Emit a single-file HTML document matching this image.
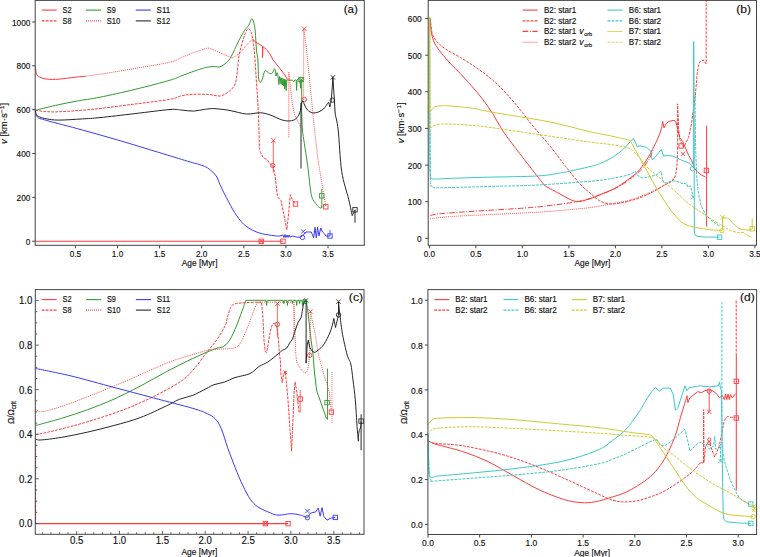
<!DOCTYPE html>
<html><head><meta charset="utf-8"><style>
html,body{margin:0;padding:0;background:#fff;}
svg{display:block;font-family:"Liberation Sans", sans-serif;}
text{stroke:#111;stroke-width:0.16px;}
</style></head><body>
<svg width="760" height="557" viewBox="0 0 760 557">
<rect width="760" height="557" fill="#fff"/>
<path d="M35.40,66.50C35.40,66.50 35.72,71.28 36.20,72.90C36.68,74.52 36.87,75.22 38.30,76.20C39.73,77.18 41.93,78.27 44.80,78.80C47.67,79.33 51.92,79.48 55.50,79.40C59.08,79.32 62.70,78.70 66.30,78.30C69.90,77.90 73.87,77.35 77.10,77.00C80.33,76.65 84.27,76.33 85.70,76.20" fill="none" stroke="#ff3a3a" stroke-width="1.0" stroke-linejoin="round"/>
<polyline points="35.4,241.3 282.9,241.3" fill="none" stroke="#ff3a3a" stroke-width="1.1" stroke-linejoin="round"/>
<path d="M35.40,110.30C35.40,110.30 41.45,111.23 44.80,111.50C48.15,111.77 50.12,112.05 55.50,111.90C60.88,111.75 69.68,111.17 77.10,110.60C84.52,110.03 90.35,109.60 100.00,108.50C109.65,107.40 123.33,105.53 135.00,104.00C146.67,102.47 162.37,100.63 170.00,99.30C177.63,97.97 177.22,96.82 180.80,96.00C184.38,95.18 187.02,94.67 191.50,94.40C195.98,94.13 203.03,94.13 207.70,94.40C212.37,94.67 216.27,96.27 219.50,96.00C222.73,95.73 224.58,94.60 227.10,92.80C229.62,91.00 232.90,88.62 234.60,85.20C236.30,81.78 236.58,77.13 237.30,72.30C238.02,67.47 238.07,61.20 238.90,56.20C239.73,51.20 241.20,46.23 242.30,42.30C243.40,38.37 244.50,34.88 245.50,32.60C246.50,30.32 247.35,28.60 248.30,28.60C249.25,28.60 250.37,30.32 251.20,32.60C252.03,34.88 252.68,37.98 253.30,42.30C253.92,46.62 254.37,51.77 254.90,58.50C255.43,65.23 256.03,75.78 256.50,82.70C256.97,89.62 257.32,92.95 257.70,100.00C258.08,107.05 258.50,116.67 258.80,125.00C259.10,133.33 259.50,150.00 259.50,150.00C259.50,150.00 261.75,155.38 263.00,157.00C264.25,158.62 265.75,158.48 267.00,159.70C268.25,160.92 269.53,163.33 270.50,164.30C271.47,165.27 272.80,165.50 272.80,165.50" fill="none" stroke="#ff3a3a" stroke-width="1" stroke-dasharray="2.8,1.2" stroke-linejoin="round"/>
<polyline points="272.8,165.5 275.0,175.0 277.5,197.0 281.0,200.5 284.5,218.0 286.8,229.7 288.5,215.0 290.3,194.7 292.7,200.5 295.5,204.0" fill="none" stroke="#ff3a3a" stroke-width="1" stroke-dasharray="2.8,1.2" stroke-linejoin="round"/>
<polyline points="273.3,140.5 273.3,172.5" fill="none" stroke="#ff3a3a" stroke-width="0.8" stroke-linejoin="round"/>
<path d="M271.1,138.3L275.5,142.7M271.1,142.7L275.5,138.3" stroke="#ff3a3a" stroke-width="0.9" fill="none"/>
<circle cx="272.8" cy="165.5" r="2.2" stroke="#ff3a3a" stroke-width="0.9" fill="none"/>
<rect x="293.3" y="201.8" width="4.4" height="4.4" stroke="#ff3a3a" stroke-width="0.9" fill="none"/>
<path d="M35.40,110.30C35.40,110.30 48.55,106.95 55.50,105.40C62.45,103.85 69.68,102.37 77.10,101.00C84.52,99.63 90.35,99.13 100.00,97.20C109.65,95.27 123.33,92.23 135.00,89.40C146.67,86.57 162.37,82.42 170.00,80.20C177.63,77.98 177.22,77.45 180.80,76.10C184.38,74.75 187.92,73.37 191.50,72.10C195.08,70.83 199.42,69.37 202.30,68.50C205.18,67.63 206.65,67.20 208.80,66.90C210.95,66.60 213.42,66.70 215.20,66.70C216.98,66.70 218.07,67.22 219.50,66.90C220.93,66.58 222.35,65.78 223.80,64.80C225.25,63.82 226.93,62.43 228.20,61.00C229.47,59.57 230.33,58.08 231.40,56.20C232.47,54.32 233.35,52.32 234.60,49.70C235.85,47.08 237.22,43.75 238.90,40.50C240.58,37.25 243.05,32.73 244.70,30.20C246.35,27.67 247.67,27.18 248.80,25.30C249.93,23.42 250.70,19.43 251.50,18.90C252.30,18.37 252.98,20.08 253.60,22.10C254.22,24.12 254.72,26.28 255.20,31.00C255.68,35.72 256.05,45.57 256.50,50.40C256.95,55.23 257.55,55.38 257.90,60.00C258.25,64.62 258.23,74.37 258.60,78.10C258.97,81.83 259.50,82.17 260.10,82.40C260.70,82.63 261.48,81.25 262.20,79.50C262.92,77.75 263.78,73.33 264.40,71.90C265.02,70.47 265.05,70.65 265.90,70.90C266.75,71.15 268.42,73.05 269.50,73.40C270.58,73.75 271.62,73.78 272.40,73.00C273.18,72.22 274.20,68.70 274.20,68.70" fill="none" stroke="#319a31" stroke-width="1.0" stroke-linejoin="round"/>
<polyline points="274.2,68.7 275.3,70.1 276.0,75.9 277.1,72.7 277.8,74.5 278.9,84.6 279.6,76.6 280.3,78.1 281.0,84.0 281.6,78.0 282.3,85.0 283.0,78.5 283.7,86.0 284.3,79.0 284.7,88.9 285.3,79.5 286.1,90.4 286.8,79.8 287.6,79.9 292.6,80.3 293.7,81.3 295.5,79.9 296.2,80.0 296.6,90.4 297.0,80.0 298.4,78.5 300.0,79.5 300.5,88.2 301.0,79.5 301.7,79.5 301.7,110.0" fill="none" stroke="#319a31" stroke-width="1.0" stroke-linejoin="round"/>
<path d="M301.60,110.00C301.60,110.00 302.05,124.45 302.50,130.00C302.95,135.55 303.42,137.18 304.30,143.30C305.18,149.42 306.63,158.13 307.80,166.70C308.97,175.27 309.93,188.48 311.30,194.70C312.67,200.92 314.43,201.75 316.00,204.00C317.57,206.25 319.73,207.87 320.70,208.20C321.67,208.53 321.80,206.00 321.80,206.00" fill="none" stroke="#319a31" stroke-width="1.0" stroke-linejoin="round"/>
<polyline points="321.8,188.8 321.8,208.0" fill="none" stroke="#319a31" stroke-width="0.9" stroke-linejoin="round"/>
<rect x="298.8" y="77.3" width="4.4" height="4.4" stroke="#319a31" stroke-width="0.9" fill="none"/>
<path d="M299.3,77.3L303.7,81.7M299.3,81.7L303.7,77.3" stroke="#319a31" stroke-width="0.9" fill="none"/>
<rect x="319.6" y="193.6" width="4.4" height="4.4" stroke="#319a31" stroke-width="0.9" fill="none"/>
<path d="M85.70,76.20C85.70,76.20 95.78,74.88 104.00,73.60C112.22,72.32 124.00,70.40 135.00,68.50C146.00,66.60 162.37,63.98 170.00,62.20C177.63,60.42 177.22,59.25 180.80,57.80C184.38,56.35 187.92,54.85 191.50,53.50C195.08,52.15 199.60,50.60 202.30,49.70C205.00,48.80 205.90,48.10 207.70,48.10C209.50,48.10 210.77,48.80 213.10,49.70C215.43,50.60 218.83,52.25 221.70,53.50C224.57,54.75 228.50,56.48 230.30,57.20C232.10,57.92 231.42,58.15 232.50,57.80C233.58,57.45 235.55,55.92 236.80,55.10C238.05,54.28 238.55,54.35 240.00,52.90C241.45,51.45 243.45,48.70 245.50,46.40C247.55,44.10 252.30,39.10 252.30,39.10" fill="none" stroke="#ff3a3a" stroke-width="1" stroke-dasharray="0.9,1.1" stroke-linejoin="round"/>
<polyline points="288.8,72.4 288.8,137.5" fill="none" stroke="#ff3a3a" stroke-width="1" stroke-dasharray="0.9,1.1" stroke-linejoin="round"/>
<path d="M288.80,72.40C288.80,72.40 290.82,92.02 291.80,99.10C292.78,106.18 293.38,110.62 294.70,114.90C296.02,119.18 298.65,122.62 299.70,124.80C300.75,126.98 300.78,127.47 301.00,128.00" fill="none" stroke="#ff3a3a" stroke-width="1" stroke-dasharray="0.9,1.1" stroke-linejoin="round"/>
<polyline points="303.6,99.5 303.8,28.9 306.6,49.7 309.5,79.3 312.5,109.0 314.5,130.0 318.0,160.0 323.0,190.0 325.8,206.8" fill="none" stroke="#ff3a3a" stroke-width="1" stroke-dasharray="0.9,1.1" stroke-linejoin="round"/>
<path d="M302.2,26.6L306.6,31.0M302.2,31.0L306.6,26.6" stroke="#ff3a3a" stroke-width="0.9" fill="none"/>
<circle cx="304.4" cy="99.5" r="2.2" stroke="#ff3a3a" stroke-width="0.9" fill="none"/>
<rect x="323.6" y="204.6" width="4.4" height="4.4" stroke="#ff3a3a" stroke-width="0.9" fill="none"/>
<polyline points="252.3,39.1 256.1,42.3 260.1,44.7 262.5,46.4 262.5,57.7 262.9,46.6 266.5,49.6 270.0,54.0 273.1,60.0 278.9,67.2 283.9,73.7 287.6,79.5" fill="none" stroke="#ff3a3a" stroke-width="1.0" stroke-linejoin="round"/>
<path d="M35.40,110.30C35.40,110.30 35.50,115.30 37.40,117.00C39.30,118.70 39.30,118.33 46.80,120.50C54.30,122.67 70.20,126.63 82.40,130.00C94.60,133.37 107.28,136.97 120.00,140.70C132.72,144.43 147.45,148.98 158.70,152.40C169.95,155.82 180.32,159.05 187.50,161.20C194.68,163.35 198.22,164.02 201.80,165.30C205.38,166.58 206.60,167.12 209.00,168.90C211.40,170.68 214.32,173.27 216.20,176.00C218.08,178.73 218.25,181.02 220.30,185.30C222.35,189.58 225.77,196.63 228.50,201.70C231.23,206.77 233.78,211.62 236.70,215.70C239.62,219.78 242.12,223.28 246.00,226.20C249.88,229.12 254.55,231.53 260.00,233.20C265.45,234.87 278.70,236.20 278.70,236.20" fill="none" stroke="#3a3aff" stroke-width="1.0" stroke-linejoin="round"/>
<polyline points="278.7,236.2 283.0,235.0 284.0,237.5 285.0,234.5 286.0,237.5 287.0,235.0 288.0,237.5 289.0,235.0 290.0,237.0 292.7,236.0 296.0,237.0 300.0,237.2 302.5,236.0 306.0,232.0 311.3,232.0 313.7,237.8 315.0,227.3 316.3,237.8 317.5,227.3 319.0,236.0 320.7,228.0 322.5,232.0 324.2,233.5 326.0,236.0 327.7,236.0 330.0,236.0" fill="none" stroke="#3a3aff" stroke-width="1.0" stroke-linejoin="round"/>
<circle cx="302.5" cy="237.4" r="2.2" stroke="#3a3aff" stroke-width="0.9" fill="none"/>
<path d="M301.0,229.3L305.4,233.7M301.0,233.7L305.4,229.3" stroke="#3a3aff" stroke-width="0.9" fill="none"/>
<rect x="327.8" y="233.8" width="4.4" height="4.4" stroke="#3a3aff" stroke-width="0.9" fill="none"/>
<polyline points="330.0,230.0 330.0,236.0" fill="none" stroke="#3a3aff" stroke-width="0.9" stroke-linejoin="round"/>
<path d="M35.40,110.30C35.40,110.30 35.48,113.48 36.20,114.60C36.92,115.72 37.93,116.28 39.70,117.00C41.47,117.72 43.63,118.38 46.80,118.90C49.97,119.42 52.77,120.10 58.70,120.10C64.63,120.10 75.52,119.32 82.40,118.90C89.28,118.48 91.23,118.48 100.00,117.60C108.77,116.72 123.33,114.95 135.00,113.60C146.67,112.25 162.18,110.08 170.00,109.50C177.82,108.92 177.95,109.83 181.90,110.10C185.85,110.37 189.77,111.25 193.70,111.10C197.63,110.95 201.95,109.60 205.50,109.20C209.05,108.80 210.92,108.48 215.00,108.70C219.08,108.92 224.77,109.62 230.00,110.50C235.23,111.38 241.37,113.62 246.40,114.00C251.43,114.38 256.27,112.65 260.20,112.80C264.13,112.95 266.38,113.72 270.00,114.90C273.62,116.08 278.60,118.90 281.90,119.90C285.20,120.90 287.50,121.07 289.80,120.90C292.10,120.73 294.05,120.23 295.70,118.90C297.35,117.57 298.72,115.55 299.70,112.90C300.68,110.25 301.02,104.97 301.60,103.00C302.18,101.03 303.20,101.10 303.20,101.10C303.20,101.10 303.87,103.52 304.60,105.00C305.33,106.48 306.28,108.68 307.60,110.00C308.92,111.32 310.70,112.57 312.50,112.90C314.30,113.23 316.58,112.65 318.40,112.00C320.22,111.35 321.92,110.33 323.40,109.00C324.88,107.67 326.42,105.15 327.30,104.00C328.18,102.85 328.70,102.10 328.70,102.10C328.70,102.10 329.90,107.00 329.90,107.00C329.90,107.00 331.30,100.10 331.30,100.10" fill="none" stroke="#262626" stroke-width="1.0" stroke-linejoin="round"/>
<polyline points="331.3,100.1 332.9,77.3 335.3,114.9" fill="none" stroke="#262626" stroke-width="1.0" stroke-linejoin="round"/>
<path d="M335.30,114.90C335.30,114.90 337.13,120.60 338.20,130.00C339.27,139.40 339.95,159.75 341.70,171.30C343.45,182.85 346.95,191.90 348.70,199.30C350.45,206.70 352.20,215.70 352.20,215.70C352.20,215.70 353.53,212.98 354.00,212.00C354.47,211.02 355.00,209.80 355.00,209.80" fill="none" stroke="#262626" stroke-width="1.0" stroke-linejoin="round"/>
<polyline points="301.0,103.0 301.0,168.5" fill="none" stroke="#262626" stroke-width="1" stroke-linejoin="round"/>
<polyline points="355.0,209.8 355.0,222.7" fill="none" stroke="#262626" stroke-width="1" stroke-linejoin="round"/>
<circle cx="332.3" cy="100.1" r="2.2" stroke="#262626" stroke-width="0.9" fill="none"/>
<path d="M330.7,75.1L335.1,79.5M330.7,79.5L335.1,75.1" stroke="#262626" stroke-width="0.9" fill="none"/>
<rect x="352.8" y="207.6" width="4.4" height="4.4" stroke="#262626" stroke-width="0.9" fill="none"/>
<rect x="259.0" y="239.1" width="4.4" height="4.4" stroke="#ff3a3a" stroke-width="0.9" fill="none"/>
<path d="M259.6,239.7L262.8,242.9M259.6,242.9L262.8,239.7" stroke="#ff3a3a" stroke-width="0.9" fill="none"/>
<rect x="280.7" y="239.1" width="4.4" height="4.4" stroke="#ff3a3a" stroke-width="0.9" fill="none"/>
<rect x="35.2" y="0.4" width="329.1" height="244.9" fill="none" stroke="#444444" stroke-width="1"/>
<line x1="32.2" y1="241.2" x2="35.2" y2="241.2" stroke="#444444" stroke-width="1.0"/>
<text x="30.3" y="244.8" font-size="8.64" text-anchor="end" fill="#111" textLength="4.58" lengthAdjust="spacingAndGlyphs">0</text>
<line x1="32.2" y1="197.4" x2="35.2" y2="197.4" stroke="#444444" stroke-width="1.0"/>
<text x="30.3" y="201.0" font-size="8.64" text-anchor="end" fill="#111" textLength="13.74" lengthAdjust="spacingAndGlyphs">200</text>
<line x1="32.2" y1="153.5" x2="35.2" y2="153.5" stroke="#444444" stroke-width="1.0"/>
<text x="30.3" y="157.1" font-size="8.64" text-anchor="end" fill="#111" textLength="13.74" lengthAdjust="spacingAndGlyphs">400</text>
<line x1="32.2" y1="109.7" x2="35.2" y2="109.7" stroke="#444444" stroke-width="1.0"/>
<text x="30.3" y="113.3" font-size="8.64" text-anchor="end" fill="#111" textLength="13.74" lengthAdjust="spacingAndGlyphs">600</text>
<line x1="32.2" y1="65.8" x2="35.2" y2="65.8" stroke="#444444" stroke-width="1.0"/>
<text x="30.3" y="69.4" font-size="8.64" text-anchor="end" fill="#111" textLength="13.74" lengthAdjust="spacingAndGlyphs">800</text>
<line x1="32.2" y1="22.0" x2="35.2" y2="22.0" stroke="#444444" stroke-width="1.0"/>
<text x="30.3" y="25.6" font-size="8.64" text-anchor="end" fill="#111" textLength="18.32" lengthAdjust="spacingAndGlyphs">1000</text>
<line x1="75.4" y1="245.3" x2="75.4" y2="248.3" stroke="#444444" stroke-width="1.0"/>
<text x="75.4" y="256.6" font-size="8.64" text-anchor="middle" fill="#111" textLength="11.45" lengthAdjust="spacingAndGlyphs">0.5</text>
<line x1="117.5" y1="245.3" x2="117.5" y2="248.3" stroke="#444444" stroke-width="1.0"/>
<text x="117.5" y="256.6" font-size="8.64" text-anchor="middle" fill="#111" textLength="11.45" lengthAdjust="spacingAndGlyphs">1.0</text>
<line x1="159.6" y1="245.3" x2="159.6" y2="248.3" stroke="#444444" stroke-width="1.0"/>
<text x="159.6" y="256.6" font-size="8.64" text-anchor="middle" fill="#111" textLength="11.45" lengthAdjust="spacingAndGlyphs">1.5</text>
<line x1="201.7" y1="245.3" x2="201.7" y2="248.3" stroke="#444444" stroke-width="1.0"/>
<text x="201.7" y="256.6" font-size="8.64" text-anchor="middle" fill="#111" textLength="11.45" lengthAdjust="spacingAndGlyphs">2.0</text>
<line x1="243.8" y1="245.3" x2="243.8" y2="248.3" stroke="#444444" stroke-width="1.0"/>
<text x="243.8" y="256.6" font-size="8.64" text-anchor="middle" fill="#111" textLength="11.45" lengthAdjust="spacingAndGlyphs">2.5</text>
<line x1="285.9" y1="245.3" x2="285.9" y2="248.3" stroke="#444444" stroke-width="1.0"/>
<text x="285.9" y="256.6" font-size="8.64" text-anchor="middle" fill="#111" textLength="11.45" lengthAdjust="spacingAndGlyphs">3.0</text>
<line x1="328.0" y1="245.3" x2="328.0" y2="248.3" stroke="#444444" stroke-width="1.0"/>
<text x="328.0" y="256.6" font-size="8.64" text-anchor="middle" fill="#111" textLength="11.45" lengthAdjust="spacingAndGlyphs">3.5</text>
<text x="199.6" y="266.2" font-size="8.76" text-anchor="middle" fill="#111" textLength="35.76" lengthAdjust="spacingAndGlyphs">Age [Myr]</text>
<text transform="translate(7.4,123.4) rotate(-90)" font-size="8.60" text-anchor="middle" fill="#111" textLength="41" lengthAdjust="spacingAndGlyphs"><tspan font-style="italic">v</tspan> [km·s<tspan dy="-3" font-size="6.19">−1</tspan><tspan dy="3">]</tspan></text>
<text x="350.8" y="12.5" font-size="11.2" text-anchor="middle" fill="#111" textLength="14.2" lengthAdjust="spacingAndGlyphs">(a)</text>
<line x1="41.7" y1="10.1" x2="56.7" y2="10.1" stroke="#ff3a3a" stroke-width="1.1"/>
<text x="62.5" y="12.7" font-size="8.52" text-anchor="start" fill="#111" textLength="9.02" lengthAdjust="spacingAndGlyphs">S2</text>
<line x1="41.7" y1="20.9" x2="56.7" y2="20.9" stroke="#ff3a3a" stroke-width="1.1" stroke-dasharray="2.8,1.2"/>
<text x="62.5" y="23.5" font-size="8.52" text-anchor="start" fill="#111" textLength="9.02" lengthAdjust="spacingAndGlyphs">S8</text>
<line x1="86.0" y1="10.1" x2="101.0" y2="10.1" stroke="#319a31" stroke-width="1.1"/>
<text x="106.8" y="12.7" font-size="8.52" text-anchor="start" fill="#111" textLength="9.02" lengthAdjust="spacingAndGlyphs">S9</text>
<line x1="86.0" y1="20.9" x2="101.0" y2="20.9" stroke="#ff3a3a" stroke-width="1.1" stroke-dasharray="0.9,1.1"/>
<text x="106.8" y="23.5" font-size="8.52" text-anchor="start" fill="#111" textLength="13.54" lengthAdjust="spacingAndGlyphs">S10</text>
<line x1="135.8" y1="10.1" x2="150.8" y2="10.1" stroke="#3a3aff" stroke-width="1.1"/>
<text x="156.6" y="12.7" font-size="8.52" text-anchor="start" fill="#111" textLength="13.54" lengthAdjust="spacingAndGlyphs">S11</text>
<line x1="135.8" y1="20.9" x2="150.8" y2="20.9" stroke="#262626" stroke-width="1.1"/>
<text x="156.6" y="23.5" font-size="8.52" text-anchor="start" fill="#111" textLength="13.54" lengthAdjust="spacingAndGlyphs">S12</text>
<path d="M430.20,18.60C430.20,18.60 430.67,27.90 431.20,31.50C431.73,35.10 432.50,37.68 433.40,40.20C434.30,42.72 434.98,44.10 436.60,46.60C438.22,49.10 440.58,52.15 443.10,55.20C445.62,58.25 448.83,61.83 451.70,64.90C454.57,67.97 457.07,70.18 460.30,73.60C463.53,77.02 467.50,81.28 471.10,85.40C474.70,89.52 478.32,93.63 481.90,98.30C485.48,102.97 489.20,108.12 492.60,113.40C496.00,118.68 498.68,124.48 502.30,130.00C505.92,135.52 507.27,137.25 514.30,146.50C521.33,155.75 544.50,185.50 544.50,185.50C544.50,185.50 554.77,191.33 560.00,194.00C565.23,196.67 570.90,200.72 575.90,201.50C580.90,202.28 586.08,199.80 590.00,198.70C593.92,197.60 596.25,196.17 599.40,194.90C602.55,193.63 605.75,192.52 608.90,191.10C612.05,189.68 615.17,188.28 618.30,186.40C621.43,184.52 624.55,182.15 627.70,179.80C630.85,177.45 634.05,175.60 637.20,172.30C640.35,169.00 644.08,163.78 646.60,160.00C649.12,156.22 650.42,153.22 652.30,149.60C654.18,145.98 656.40,141.75 657.90,138.30C659.40,134.85 660.52,131.73 661.30,128.90C662.08,126.07 662.60,121.30 662.60,121.30" fill="none" stroke="#ff3a3a" stroke-width="1.0" stroke-linejoin="round"/>
<polyline points="662.6,121.3 664.0,127.9 666.4,123.2 669.2,121.3 674.0,120.4 675.8,121.3 677.7,128.9 679.7,137.5 682.6,141.4 685.6,148.3 688.6,155.3 691.5,160.2 694.5,168.1 697.5,172.1 701.4,175.0 705.4,177.0" fill="none" stroke="#ff3a3a" stroke-width="1.0" stroke-linejoin="round"/>
<polyline points="706.6,125.6 706.6,226.6" fill="none" stroke="#ff3a3a" stroke-width="1" stroke-linejoin="round"/>
<rect x="704.2" y="168.2" width="4.4" height="4.4" stroke="#ff3a3a" stroke-width="0.9" fill="none"/>
<path d="M430.20,18.60C430.20,18.60 431.23,29.93 432.30,33.70C433.37,37.47 434.45,38.68 436.60,41.20C438.75,43.72 441.25,46.10 445.20,48.80C449.15,51.50 455.27,54.35 460.30,57.40C465.33,60.45 470.02,63.33 475.40,67.10C480.78,70.87 487.22,75.33 492.60,80.00C497.98,84.67 503.03,90.07 507.70,95.10C512.37,100.13 516.65,105.35 520.60,110.20C524.55,115.05 526.50,118.23 531.40,124.20C536.30,130.17 544.27,138.93 550.00,146.00C555.73,153.07 560.80,160.27 565.80,166.60C570.80,172.93 575.97,179.60 580.00,184.00C584.03,188.40 586.77,190.23 590.00,193.00C593.23,195.77 596.25,198.80 599.40,200.60C602.55,202.40 605.75,203.33 608.90,203.80C612.05,204.27 615.17,203.78 618.30,203.40C621.43,203.02 624.55,202.28 627.70,201.50C630.85,200.72 634.05,199.80 637.20,198.70C640.35,197.60 643.47,196.32 646.60,194.90C649.73,193.48 652.85,191.93 656.00,190.20C659.15,188.47 662.98,185.92 665.50,184.50C668.02,183.08 669.53,182.95 671.10,181.70C672.67,180.45 673.95,179.52 674.90,177.00C675.85,174.48 676.35,171.22 676.80,166.60C677.25,161.98 677.60,149.30 677.60,149.30" fill="none" stroke="#ff3a3a" stroke-width="1" stroke-dasharray="2.8,1.2" stroke-linejoin="round"/>
<polyline points="677.6,149.3 677.6,103.8 678.7,129.5 679.7,139.4 681.6,143.4 683.6,147.3 685.6,143.4 688.6,137.5 691.5,123.6 693.9,105.8 695.5,94.0 697.0,75.0 698.3,66.2 699.9,61.7 703.3,60.1 706.2,63.9 706.2,0.5" fill="none" stroke="#ff3a3a" stroke-width="1" stroke-dasharray="2.8,1.2" stroke-linejoin="round"/>
<rect x="679.0" y="143.8" width="4.4" height="4.4" stroke="#ff3a3a" stroke-width="0.9" fill="none"/>
<path d="M680.8,151.7L685.2,156.1M680.8,156.1L685.2,151.7" stroke="#ff3a3a" stroke-width="0.9" fill="none"/>
<path d="M430.00,215.60C430.00,215.60 432.62,214.45 440.30,213.70C447.98,212.95 461.98,212.05 476.10,211.10C490.22,210.15 512.68,208.93 525.00,208.00C537.32,207.07 541.62,206.50 550.00,205.50C558.38,204.50 568.63,203.17 575.30,202.00C581.97,200.83 585.98,199.68 590.00,198.50C594.02,197.32 595.78,196.28 599.40,194.90C603.02,193.52 607.72,192.05 611.70,190.20C615.68,188.35 619.42,186.32 623.30,183.80C627.18,181.28 631.70,177.82 635.00,175.10C638.30,172.38 640.77,170.13 643.10,167.50C645.43,164.87 647.33,162.22 649.00,159.30C650.67,156.38 652.42,151.55 653.10,150.00" fill="none" stroke="#ff3a3a" stroke-width="1" stroke-dasharray="5.6,1.6,1,1.6" stroke-linejoin="round"/>
<path d="M430.00,218.70C430.00,218.70 442.52,217.18 450.20,216.60C457.88,216.02 463.63,215.82 476.10,215.20C488.57,214.58 512.55,213.55 525.00,212.90C537.45,212.25 539.97,212.18 550.80,211.30C561.63,210.42 580.32,208.77 590.00,207.60C599.68,206.43 602.62,205.47 608.90,204.30C615.18,203.13 621.42,202.32 627.70,200.60C633.98,198.88 640.30,196.68 646.60,194.00C652.90,191.32 660.78,187.33 665.50,184.50C670.22,181.67 673.33,178.25 674.90,177.00" fill="none" stroke="#ff3a3a" stroke-width="1" stroke-dasharray="0.9,1.1" stroke-linejoin="round"/>
<path d="M429.60,17.00C429.60,17.00 429.73,94.50 429.80,120.00C429.87,145.50 429.80,160.40 430.00,170.00C430.20,179.60 430.37,176.07 431.00,177.60C431.63,179.13 433.80,179.20 433.80,179.20C433.80,179.20 441.18,178.73 450.20,178.40C459.22,178.07 473.23,177.62 487.90,177.20C502.57,176.78 525.63,176.70 538.20,175.90C550.77,175.10 554.67,173.95 563.30,172.40C571.93,170.85 583.98,168.03 590.00,166.60C596.02,165.17 596.25,165.00 599.40,163.80C602.55,162.60 605.75,161.13 608.90,159.40C612.05,157.67 615.48,155.50 618.30,153.40C621.12,151.30 623.75,148.85 625.80,146.80C627.85,144.75 629.33,142.52 630.60,141.10C631.87,139.68 633.40,138.30 633.40,138.30" fill="none" stroke="#3cc8c8" stroke-width="1.0" stroke-linejoin="round"/>
<polyline points="633.4,138.3 635.3,142.1 637.2,146.8 640.0,145.8 646.6,147.4 650.4,150.6 652.3,160.0 655.1,157.2 658.9,152.5 661.3,149.6 663.6,156.2 667.4,155.3 673.0,156.2 681.6,160.2 689.5,163.2 692.5,166.1 693.7,168.0 693.7,41.5 694.3,200.0 694.4,233.0 695.5,235.5 697.9,236.4 705.0,237.0 719.6,237.2" fill="none" stroke="#3cc8c8" stroke-width="1.0" stroke-linejoin="round"/>
<circle cx="692.5" cy="168.7" r="2.2" stroke="#3cc8c8" stroke-width="0.9" fill="none"/>
<rect x="717.4" y="235.0" width="4.4" height="4.4" stroke="#3cc8c8" stroke-width="0.9" fill="none"/>
<path d="M429.60,17.00C429.60,17.00 429.85,92.83 430.00,120.00C430.15,147.17 430.25,169.00 430.50,180.00C430.75,191.00 430.73,184.67 431.50,186.00C432.27,187.33 435.10,188.00 435.10,188.00C435.10,188.00 451.80,187.50 462.70,187.20C473.60,186.90 487.92,186.57 500.50,186.20C513.08,185.83 523.28,185.82 538.20,185.00C553.12,184.18 578.22,182.32 590.00,181.30C601.78,180.28 602.62,179.93 608.90,178.90C615.18,177.87 623.30,176.37 627.70,175.10C632.10,173.83 635.30,171.30 635.30,171.30" fill="none" stroke="#3cc8c8" stroke-width="1" stroke-dasharray="2.8,1.2" stroke-linejoin="round"/>
<polyline points="635.3,171.3 637.2,175.1 641.9,177.9 646.6,177.5 656.0,175.1 661.3,171.3 662.6,179.8 664.5,183.6 669.2,181.7 674.9,180.8 680.0,182.6 683.6,183.9 686.6,182.9 687.6,186.9 690.5,185.9 693.2,197.0" fill="none" stroke="#3cc8c8" stroke-width="1" stroke-dasharray="2.8,1.2" stroke-linejoin="round"/>
<path d="M695.10,95.00C695.10,95.00 695.18,125.83 695.50,140.00C695.82,154.17 696.25,169.83 697.00,180.00C697.75,190.17 698.98,196.08 700.00,201.00C701.02,205.92 701.97,207.05 703.10,209.50C704.23,211.95 705.00,213.57 706.80,215.70C708.60,217.83 711.70,220.50 713.90,222.30C716.10,224.10 718.98,225.80 720.00,226.50" fill="none" stroke="#3cc8c8" stroke-width="1" stroke-dasharray="2.8,1.2" stroke-linejoin="round"/>
<path d="M691.0,194.8L695.4,199.2M691.0,199.2L695.4,194.8" stroke="#3cc8c8" stroke-width="0.9" fill="none"/>
<path d="M429.60,17.00C429.60,17.00 429.60,84.30 429.70,100.00C429.80,115.70 429.40,110.05 430.20,111.20C431.00,112.35 432.72,107.78 434.50,106.90C436.28,106.02 438.40,106.07 440.90,105.90C443.40,105.73 444.47,105.55 449.50,105.90C454.53,106.25 463.92,106.93 471.10,108.00C478.28,109.07 479.78,110.03 492.60,112.30C505.42,114.57 531.77,118.37 548.00,121.60C564.23,124.83 579.85,129.38 590.00,131.70C600.15,134.02 602.30,134.08 608.90,135.50C615.50,136.92 629.60,140.20 629.60,140.20C629.60,140.20 630.23,140.80 631.50,143.00C632.77,145.20 634.68,148.83 637.20,153.40C639.72,157.97 643.47,164.73 646.60,170.40C649.73,176.07 652.85,182.05 656.00,187.40C659.15,192.75 662.67,198.23 665.50,202.50C668.33,206.77 669.87,209.43 673.00,213.00C676.13,216.57 679.28,221.27 684.30,223.90C689.32,226.53 696.82,227.67 703.10,228.80C709.38,229.93 718.85,230.38 722.00,230.70" fill="none" stroke="#cccc30" stroke-width="1.0" stroke-linejoin="round"/>
<polyline points="722.5,217.2 722.5,230.7" fill="none" stroke="#cccc30" stroke-width="1" stroke-linejoin="round"/>
<path d="M722.50,217.20C722.50,217.20 725.50,217.87 726.50,218.10C727.50,218.33 727.52,217.85 728.50,218.60C729.48,219.35 730.92,221.12 732.40,222.60C733.88,224.08 735.58,226.35 737.40,227.50C739.22,228.65 741.33,229.08 743.30,229.50C745.27,229.92 747.72,230.08 749.20,230.00C750.68,229.92 751.70,229.17 752.20,229.00" fill="none" stroke="#cccc30" stroke-width="1.0" stroke-linejoin="round"/>
<polyline points="752.2,218.5 752.2,229.0" fill="none" stroke="#cccc30" stroke-width="1" stroke-linejoin="round"/>
<circle cx="722.0" cy="230.7" r="2.2" stroke="#cccc30" stroke-width="0.9" fill="none"/>
<path d="M720.3,215.0L724.7,219.4M720.3,219.4L724.7,215.0" stroke="#cccc30" stroke-width="0.9" fill="none"/>
<rect x="750.0" y="226.6" width="4.4" height="4.4" stroke="#cccc30" stroke-width="0.9" fill="none"/>
<path d="M429.60,17.00C429.60,17.00 429.70,101.60 429.80,120.00C429.90,138.40 428.70,126.70 430.20,127.40C431.70,128.10 434.85,124.73 438.80,124.20C442.75,123.67 448.52,124.02 453.90,124.20C459.28,124.38 465.43,124.82 471.10,125.30C476.77,125.78 478.82,125.88 487.90,127.10C496.98,128.32 513.03,130.75 525.60,132.60C538.17,134.45 552.57,136.62 563.30,138.20C574.03,139.78 582.40,141.08 590.00,142.10C597.60,143.12 602.62,143.37 608.90,144.30C615.18,145.23 623.77,146.65 627.70,147.70C631.63,148.75 630.60,149.02 632.50,150.60C634.40,152.18 636.75,154.53 639.10,157.20C641.45,159.87 643.78,163.62 646.60,166.60C649.42,169.58 652.85,172.43 656.00,175.10C659.15,177.77 661.50,179.15 665.50,182.60C669.50,186.05 676.42,192.50 680.00,195.80C683.58,199.10 682.53,199.00 687.00,202.40C691.47,205.80 700.87,212.27 706.80,216.20C712.73,220.13 718.82,223.70 722.60,226.00C726.38,228.30 727.03,228.93 729.50,230.00C731.97,231.07 734.93,231.97 737.40,232.40C739.87,232.83 742.82,232.18 744.30,232.60C745.78,233.02 744.98,234.10 746.30,234.90C747.62,235.70 751.22,236.98 752.20,237.40" fill="none" stroke="#cccc30" stroke-width="1" stroke-dasharray="2.8,1.2" stroke-linejoin="round"/>
<rect x="428.2" y="0.4" width="328.3" height="244.9" fill="none" stroke="#444444" stroke-width="1"/>
<line x1="425.2" y1="238.3" x2="428.2" y2="238.3" stroke="#444444" stroke-width="1.0"/>
<text x="421.6" y="241.9" font-size="8.64" text-anchor="end" fill="#111" textLength="4.58" lengthAdjust="spacingAndGlyphs">0</text>
<line x1="425.2" y1="201.7" x2="428.2" y2="201.7" stroke="#444444" stroke-width="1.0"/>
<text x="421.6" y="205.3" font-size="8.64" text-anchor="end" fill="#111" textLength="13.74" lengthAdjust="spacingAndGlyphs">100</text>
<line x1="425.2" y1="165.1" x2="428.2" y2="165.1" stroke="#444444" stroke-width="1.0"/>
<text x="421.6" y="168.7" font-size="8.64" text-anchor="end" fill="#111" textLength="13.74" lengthAdjust="spacingAndGlyphs">200</text>
<line x1="425.2" y1="128.4" x2="428.2" y2="128.4" stroke="#444444" stroke-width="1.0"/>
<text x="421.6" y="132.0" font-size="8.64" text-anchor="end" fill="#111" textLength="13.74" lengthAdjust="spacingAndGlyphs">300</text>
<line x1="425.2" y1="91.8" x2="428.2" y2="91.8" stroke="#444444" stroke-width="1.0"/>
<text x="421.6" y="95.4" font-size="8.64" text-anchor="end" fill="#111" textLength="13.74" lengthAdjust="spacingAndGlyphs">400</text>
<line x1="425.2" y1="55.2" x2="428.2" y2="55.2" stroke="#444444" stroke-width="1.0"/>
<text x="421.6" y="58.8" font-size="8.64" text-anchor="end" fill="#111" textLength="13.74" lengthAdjust="spacingAndGlyphs">500</text>
<line x1="425.2" y1="18.6" x2="428.2" y2="18.6" stroke="#444444" stroke-width="1.0"/>
<text x="421.6" y="22.2" font-size="8.64" text-anchor="end" fill="#111" textLength="13.74" lengthAdjust="spacingAndGlyphs">600</text>
<line x1="429.4" y1="245.3" x2="429.4" y2="248.3" stroke="#444444" stroke-width="1.0"/>
<text x="429.4" y="256.6" font-size="8.64" text-anchor="middle" fill="#111" textLength="11.45" lengthAdjust="spacingAndGlyphs">0.0</text>
<line x1="475.9" y1="245.3" x2="475.9" y2="248.3" stroke="#444444" stroke-width="1.0"/>
<text x="475.9" y="256.6" font-size="8.64" text-anchor="middle" fill="#111" textLength="11.45" lengthAdjust="spacingAndGlyphs">0.5</text>
<line x1="522.4" y1="245.3" x2="522.4" y2="248.3" stroke="#444444" stroke-width="1.0"/>
<text x="522.4" y="256.6" font-size="8.64" text-anchor="middle" fill="#111" textLength="11.45" lengthAdjust="spacingAndGlyphs">1.0</text>
<line x1="568.9" y1="245.3" x2="568.9" y2="248.3" stroke="#444444" stroke-width="1.0"/>
<text x="568.9" y="256.6" font-size="8.64" text-anchor="middle" fill="#111" textLength="11.45" lengthAdjust="spacingAndGlyphs">1.5</text>
<line x1="615.4" y1="245.3" x2="615.4" y2="248.3" stroke="#444444" stroke-width="1.0"/>
<text x="615.4" y="256.6" font-size="8.64" text-anchor="middle" fill="#111" textLength="11.45" lengthAdjust="spacingAndGlyphs">2.0</text>
<line x1="661.9" y1="245.3" x2="661.9" y2="248.3" stroke="#444444" stroke-width="1.0"/>
<text x="661.9" y="256.6" font-size="8.64" text-anchor="middle" fill="#111" textLength="11.45" lengthAdjust="spacingAndGlyphs">2.5</text>
<line x1="708.4" y1="245.3" x2="708.4" y2="248.3" stroke="#444444" stroke-width="1.0"/>
<text x="708.4" y="256.6" font-size="8.64" text-anchor="middle" fill="#111" textLength="11.45" lengthAdjust="spacingAndGlyphs">3.0</text>
<line x1="754.9" y1="245.3" x2="754.9" y2="248.3" stroke="#444444" stroke-width="1.0"/>
<text x="754.9" y="256.6" font-size="8.64" text-anchor="middle" fill="#111" textLength="11.45" lengthAdjust="spacingAndGlyphs">3.5</text>
<text x="592.4" y="266.2" font-size="8.76" text-anchor="middle" fill="#111" textLength="35.76" lengthAdjust="spacingAndGlyphs">Age [Myr]</text>
<text transform="translate(404.0,122.8) rotate(-90)" font-size="8.60" text-anchor="middle" fill="#111" textLength="41" lengthAdjust="spacingAndGlyphs"><tspan font-style="italic">v</tspan> [km·s<tspan dy="-3" font-size="6.19">−1</tspan><tspan dy="3">]</tspan></text>
<text x="743.7" y="13.3" font-size="11.2" text-anchor="middle" fill="#111" textLength="14.8" lengthAdjust="spacingAndGlyphs">(b)</text>
<line x1="522.6" y1="10.1" x2="537.6" y2="10.1" stroke="#ff3a3a" stroke-width="1.1"/>
<text x="543.9" y="12.7" font-size="8.52" text-anchor="start" fill="#111" textLength="32.31" lengthAdjust="spacingAndGlyphs">B2: star1</text>
<line x1="522.6" y1="20.9" x2="537.6" y2="20.9" stroke="#ff3a3a" stroke-width="1.1" stroke-dasharray="2.8,1.2"/>
<text x="543.9" y="23.5" font-size="8.52" text-anchor="start" fill="#111" textLength="32.31" lengthAdjust="spacingAndGlyphs">B2: star2</text>
<line x1="522.6" y1="31.4" x2="537.6" y2="31.4" stroke="#ff3a3a" stroke-width="1.1" stroke-dasharray="5.6,1.6,1,1.6"/>
<line x1="522.6" y1="42.2" x2="537.6" y2="42.2" stroke="#ff3a3a" stroke-width="1.1" stroke-dasharray="0.9,1.1"/>
<line x1="607.5" y1="10.1" x2="622.5" y2="10.1" stroke="#3cc8c8" stroke-width="1.1"/>
<text x="628.8" y="12.7" font-size="8.52" text-anchor="start" fill="#111" textLength="32.31" lengthAdjust="spacingAndGlyphs">B6: star1</text>
<line x1="607.5" y1="20.9" x2="622.5" y2="20.9" stroke="#3cc8c8" stroke-width="1.1" stroke-dasharray="2.8,1.2"/>
<text x="628.8" y="23.5" font-size="8.52" text-anchor="start" fill="#111" textLength="32.31" lengthAdjust="spacingAndGlyphs">B6: star2</text>
<line x1="607.5" y1="31.4" x2="622.5" y2="31.4" stroke="#cccc30" stroke-width="0.8"/>
<text x="628.8" y="34.0" font-size="8.52" text-anchor="start" fill="#111" textLength="32.31" lengthAdjust="spacingAndGlyphs">B7: star1</text>
<line x1="607.5" y1="42.2" x2="622.5" y2="42.2" stroke="#cccc30" stroke-width="0.8" stroke-dasharray="2.8,1.2"/>
<text x="628.8" y="44.8" font-size="8.52" text-anchor="start" fill="#111" textLength="32.31" lengthAdjust="spacingAndGlyphs">B7: star2</text>
<text x="543.9" y="34.0" font-size="8.52" text-anchor="start" fill="#111" textLength="32.31" lengthAdjust="spacingAndGlyphs">B2: star1</text>
<text x="579.3" y="34.0" font-size="8.8" font-style="italic" fill="#111">v</text>
<text x="584.2" y="35.7" font-size="6.2" fill="#111" textLength="8" lengthAdjust="spacingAndGlyphs">orb</text>
<text x="543.9" y="44.8" font-size="8.52" text-anchor="start" fill="#111" textLength="32.31" lengthAdjust="spacingAndGlyphs">B2: star2</text>
<text x="579.3" y="44.8" font-size="8.8" font-style="italic" fill="#111">v</text>
<text x="584.2" y="46.5" font-size="6.2" fill="#111" textLength="8" lengthAdjust="spacingAndGlyphs">orb</text>
<polyline points="35.4,523.6 288.1,523.6" fill="none" stroke="#ff3a3a" stroke-width="1.1" stroke-linejoin="round"/>
<polyline points="35.6,523.4 35.6,438.6" fill="none" stroke="#ff3a3a" stroke-width="1" stroke-dasharray="2.8,1.2" stroke-linejoin="round"/>
<path d="M35.60,434.70C35.60,434.70 41.72,433.63 48.20,432.10C54.68,430.57 65.73,427.92 74.50,425.50C83.27,423.08 92.03,420.45 100.80,417.60C109.57,414.75 118.33,411.90 127.10,408.40C135.87,404.90 144.63,400.98 153.40,396.60C162.17,392.22 173.12,386.48 179.70,382.10C186.28,377.72 188.50,375.12 192.90,370.30C197.30,365.48 202.15,358.25 206.10,353.20C210.05,348.15 213.45,344.55 216.60,340.00C219.75,335.45 223.12,329.93 225.00,325.90C226.88,321.87 226.95,318.92 227.90,315.80C228.85,312.68 229.75,309.10 230.70,307.20C231.65,305.30 232.40,305.07 233.60,304.40C234.80,303.73 235.75,303.50 237.90,303.20C240.05,302.90 242.92,302.77 246.50,302.60C250.08,302.43 256.88,302.15 259.40,302.20C261.92,302.25 261.60,302.90 261.60,302.90" fill="none" stroke="#ff3a3a" stroke-width="1" stroke-dasharray="2.8,1.2" stroke-linejoin="round"/>
<polyline points="261.6,302.9 263.0,318.7 264.0,340.2 265.2,351.7 266.6,352.4 268.1,344.5 270.2,331.6 272.4,324.4 274.5,323.0 276.0,325.2 277.4,330.0 278.5,340.0 279.5,355.0 280.4,360.0 280.8,373.0 282.2,382.8 283.5,374.8 285.3,371.2 286.2,380.1 288.0,399.9 289.8,426.8 291.6,451.1 292.4,432.2 294.2,390.9 295.1,381.9 296.6,390.9 297.8,401.7 299.1,412.5" fill="none" stroke="#ff3a3a" stroke-width="1" stroke-dasharray="2.8,1.2" stroke-linejoin="round"/>
<polyline points="277.4,303.6 277.4,337.4" fill="none" stroke="#ff3a3a" stroke-width="0.8" stroke-linejoin="round"/>
<polyline points="300.2,390.0 300.2,412.5" fill="none" stroke="#ff3a3a" stroke-width="0.8" stroke-linejoin="round"/>
<path d="M275.2,301.4L279.6,305.8M275.2,305.8L279.6,301.4" stroke="#ff3a3a" stroke-width="0.9" fill="none"/>
<circle cx="277.4" cy="324.4" r="2.2" stroke="#ff3a3a" stroke-width="0.9" fill="none"/>
<path d="M283.5,370.7L287.1,374.3M283.5,374.3L287.1,370.7" stroke="#ff3a3a" stroke-width="0.9" fill="none"/>
<rect x="298.0" y="396.8" width="4.4" height="4.4" stroke="#ff3a3a" stroke-width="0.9" fill="none"/>
<path d="M35.60,425.50C35.60,425.50 52.63,421.03 61.30,418.40C69.97,415.77 78.83,412.90 87.60,409.70C96.37,406.50 105.12,403.13 113.90,399.20C122.68,395.27 131.52,390.70 140.30,386.10C149.08,381.50 157.83,376.22 166.60,371.60C175.37,366.98 185.00,362.13 192.90,358.40C200.80,354.67 208.95,351.17 214.00,349.20C219.05,347.23 220.58,348.13 223.20,346.60C225.82,345.07 227.48,343.45 229.70,340.00C231.92,336.55 234.65,330.17 236.50,325.90C238.35,321.63 239.48,317.98 240.80,314.40C242.12,310.82 243.57,306.75 244.40,304.40C245.23,302.05 245.80,300.30 245.80,300.30" fill="none" stroke="#319a31" stroke-width="1.0" stroke-linejoin="round"/>
<polyline points="245.8,300.3 266.0,300.3 266.6,305.5 267.2,300.3 283.2,300.3 283.8,303.6 284.4,300.3 286.8,300.3 287.4,305.5 288.0,300.3 291.8,300.3 292.4,303.6 293.0,300.3 296.1,300.3 296.7,305.5 297.3,300.3 299.0,300.3 299.6,303.6 300.2,300.3 301.9,300.3 302.5,305.5 303.1,300.3 305.4,300.3 306.1,300.3 307.5,308.7 311.1,340.2 313.1,355.0 314.5,373.0 316.7,390.9 321.2,403.5 326.6,418.8" fill="none" stroke="#319a31" stroke-width="1.0" stroke-linejoin="round"/>
<polyline points="327.5,368.5 327.5,419.7" fill="none" stroke="#319a31" stroke-width="0.9" stroke-linejoin="round"/>
<path d="M303.9,298.1L308.3,302.5M303.9,302.5L308.3,298.1" stroke="#319a31" stroke-width="0.9" fill="none"/>
<rect x="303.2" y="299.7" width="3.6" height="3.6" stroke="#319a31" stroke-width="0.9" fill="none"/>
<rect x="324.9" y="400.4" width="4.4" height="4.4" stroke="#319a31" stroke-width="0.9" fill="none"/>
<path d="M35.60,409.00C35.60,409.00 35.52,409.27 36.30,409.70C37.08,410.13 37.88,411.60 40.30,411.60C42.72,411.60 45.10,411.33 50.80,409.70C56.50,408.07 63.98,405.73 74.50,401.80C85.02,397.87 100.75,391.58 113.90,386.10C127.05,380.62 143.75,373.07 153.40,368.90C163.05,364.73 165.22,363.50 171.80,361.10C178.38,358.70 186.75,356.35 192.90,354.50C199.05,352.65 204.32,350.88 208.70,350.00C213.08,349.12 215.05,349.52 219.20,349.20C223.35,348.88 230.23,348.88 233.60,348.10C236.97,347.32 237.48,347.00 239.40,344.50C241.32,342.00 243.20,337.40 245.10,333.10C247.00,328.80 249.13,323.02 250.80,318.70C252.47,314.38 253.90,309.95 255.10,307.20C256.30,304.45 258.00,302.20 258.00,302.20" fill="none" stroke="#ff3a3a" stroke-width="1" stroke-dasharray="0.9,1.1" stroke-linejoin="round"/>
<polyline points="258.0,302.2 293.9,302.2 293.9,340.0" fill="none" stroke="#ff3a3a" stroke-width="1" stroke-dasharray="0.9,1.1" stroke-linejoin="round"/>
<path d="M293.90,302.20C293.90,302.20 294.87,330.57 295.30,340.20C295.73,349.83 295.63,355.28 296.50,360.00C297.37,364.72 299.08,366.33 300.50,368.50C301.92,370.67 303.80,372.85 305.00,373.00C306.20,373.15 306.95,372.10 307.70,369.40C308.45,366.70 309.50,356.80 309.50,356.80" fill="none" stroke="#ff3a3a" stroke-width="1" stroke-dasharray="0.9,1.1" stroke-linejoin="round"/>
<polyline points="309.5,356.8 310.4,311.5 311.8,318.7 315.0,333.1 318.5,355.0 323.9,374.8 327.5,385.5 329.3,392.7 331.4,412.1" fill="none" stroke="#ff3a3a" stroke-width="1" stroke-dasharray="0.9,1.1" stroke-linejoin="round"/>
<polyline points="332.0,372.1 332.0,424.1" fill="none" stroke="#ff3a3a" stroke-width="0.8" stroke-dasharray="0.9,1.1" stroke-linejoin="round"/>
<path d="M308.2,309.3L312.6,313.7M308.2,313.7L312.6,309.3" stroke="#ff3a3a" stroke-width="0.9" fill="none"/>
<circle cx="309.7" cy="355.3" r="2.2" stroke="#ff3a3a" stroke-width="0.9" fill="none"/>
<rect x="329.2" y="409.9" width="4.4" height="4.4" stroke="#ff3a3a" stroke-width="0.9" fill="none"/>
<path d="M35.60,368.80C35.60,368.80 34.63,368.35 37.60,368.90C40.57,369.45 47.25,370.78 53.40,372.10C59.55,373.42 64.42,374.25 74.50,376.80C84.58,379.35 100.75,383.88 113.90,387.40C127.05,390.92 140.23,394.40 153.40,397.90C166.57,401.40 183.90,405.77 192.90,408.40C201.90,411.03 203.67,411.95 207.40,413.70C211.13,415.45 212.97,416.37 215.30,418.90C217.63,421.43 219.33,424.08 221.40,428.90C223.47,433.72 225.38,441.30 227.70,447.80C230.02,454.30 232.78,461.62 235.30,467.90C237.82,474.18 240.30,480.27 242.80,485.50C245.30,490.73 247.78,495.73 250.30,499.30C252.82,502.87 254.95,504.80 257.90,506.90C260.85,509.00 264.65,510.52 268.00,511.90C271.35,513.28 274.23,514.90 278.00,515.20C281.77,515.50 286.83,513.70 290.60,513.70C294.37,513.70 297.80,514.53 300.60,515.20C303.40,515.87 307.40,517.70 307.40,517.70" fill="none" stroke="#3a3aff" stroke-width="1.0" stroke-linejoin="round"/>
<polyline points="307.4,517.7 310.7,513.1 315.7,511.9 318.2,508.1 320.2,516.2 322.0,507.6 323.8,516.2 327.0,520.2 330.8,518.2 335.3,517.4" fill="none" stroke="#3a3aff" stroke-width="1.0" stroke-linejoin="round"/>
<circle cx="307.4" cy="517.7" r="2.2" stroke="#3a3aff" stroke-width="0.9" fill="none"/>
<path d="M305.2,508.9L309.6,513.3M305.2,513.3L309.6,508.9" stroke="#3a3aff" stroke-width="0.9" fill="none"/>
<rect x="333.1" y="515.2" width="4.4" height="4.4" stroke="#3a3aff" stroke-width="0.9" fill="none"/>
<path d="M35.60,438.70C35.60,438.70 36.02,440.22 40.30,440.00C44.58,439.78 53.42,438.72 61.30,437.40C69.18,436.08 78.83,434.08 87.60,432.10C96.37,430.12 105.12,427.92 113.90,425.50C122.68,423.08 131.52,420.88 140.30,417.60C149.08,414.32 160.03,408.87 166.60,405.80C173.17,402.73 175.32,400.95 179.70,399.20C184.08,397.45 188.50,397.05 192.90,395.30C197.30,393.55 202.58,390.47 206.10,388.70C209.62,386.93 210.93,385.80 214.00,384.70C217.07,383.60 221.00,383.28 224.50,382.10C228.00,380.92 230.77,379.02 235.00,377.60C239.23,376.18 245.88,375.45 249.90,373.60C253.92,371.75 256.07,368.47 259.10,366.50C262.13,364.53 264.93,363.90 268.10,361.80C271.27,359.70 275.72,355.82 278.10,353.90C280.48,351.98 280.97,351.27 282.40,350.30C283.83,349.33 285.50,349.30 286.70,348.10C287.90,346.90 288.63,344.65 289.60,343.10C290.57,341.55 291.55,340.95 292.50,338.80C293.45,336.65 294.35,332.95 295.30,330.20C296.25,327.45 297.23,324.45 298.20,322.30C299.17,320.15 300.27,320.05 301.10,317.30C301.93,314.55 302.60,308.43 303.20,305.80C303.80,303.17 304.22,302.35 304.70,301.50C305.18,300.65 306.10,300.70 306.10,300.70" fill="none" stroke="#262626" stroke-width="1.0" stroke-linejoin="round"/>
<polyline points="306.1,300.7 306.1,363.2 307.2,345.0 308.3,340.2 309.7,347.4 312.6,351.7 315.0,352.4" fill="none" stroke="#262626" stroke-width="1.0" stroke-linejoin="round"/>
<path d="M315.00,352.40C315.00,352.40 320.92,348.45 323.50,344.90C326.08,341.35 328.77,335.52 330.50,331.10C332.23,326.68 333.90,318.40 333.90,318.40C333.90,318.40 335.50,327.60 335.50,327.60C335.50,327.60 338.50,314.90 338.50,314.90" fill="none" stroke="#262626" stroke-width="1.0" stroke-linejoin="round"/>
<polyline points="338.5,314.9 338.5,301.6" fill="none" stroke="#262626" stroke-width="1.0" stroke-linejoin="round"/>
<path d="M338.50,301.60C338.50,301.60 340.55,322.20 342.00,331.10C343.45,340.00 345.73,349.52 347.20,355.00C348.67,360.48 349.83,359.82 350.80,364.00C351.77,368.18 352.25,374.12 353.00,380.10C353.75,386.08 354.62,392.12 355.30,399.90C355.98,407.68 356.58,419.92 357.10,426.80C357.62,433.68 358.40,441.20 358.40,441.20C358.40,441.20 358.52,434.60 358.90,432.20C359.28,429.80 360.33,428.65 360.70,426.80C361.07,424.95 361.10,421.10 361.10,421.10" fill="none" stroke="#262626" stroke-width="1.0" stroke-linejoin="round"/>
<polyline points="361.1,414.3 361.1,450.2" fill="none" stroke="#262626" stroke-width="1" stroke-linejoin="round"/>
<circle cx="338.5" cy="314.9" r="2.2" stroke="#262626" stroke-width="0.9" fill="none"/>
<path d="M336.3,299.4L340.7,303.8M336.3,303.8L340.7,299.4" stroke="#262626" stroke-width="0.9" fill="none"/>
<rect x="358.9" y="418.9" width="4.4" height="4.4" stroke="#262626" stroke-width="0.9" fill="none"/>
<rect x="263.2" y="521.4" width="4.4" height="4.4" stroke="#ff3a3a" stroke-width="0.9" fill="none"/>
<path d="M263.8,522.0L267.0,525.2M263.8,525.2L267.0,522.0" stroke="#ff3a3a" stroke-width="0.9" fill="none"/>
<rect x="285.9" y="521.4" width="4.4" height="4.4" stroke="#ff3a3a" stroke-width="0.9" fill="none"/>
<rect x="35.3" y="289.6" width="328.7" height="244.7" fill="none" stroke="#444444" stroke-width="1"/>
<line x1="35.3" y1="523.4" x2="38.8" y2="523.4" stroke="#444444" stroke-width="0.8"/>
<text x="32.3" y="527.2" font-size="10.08" text-anchor="end" fill="#111" textLength="13.36" lengthAdjust="spacingAndGlyphs">0.0</text>
<line x1="35.3" y1="512.3" x2="37.3" y2="512.3" stroke="#444444" stroke-width="0.8"/>
<line x1="35.3" y1="501.1" x2="37.3" y2="501.1" stroke="#444444" stroke-width="0.8"/>
<line x1="35.3" y1="490.0" x2="37.3" y2="490.0" stroke="#444444" stroke-width="0.8"/>
<line x1="35.3" y1="478.8" x2="38.8" y2="478.8" stroke="#444444" stroke-width="0.8"/>
<text x="32.3" y="482.6" font-size="10.08" text-anchor="end" fill="#111" textLength="13.36" lengthAdjust="spacingAndGlyphs">0.2</text>
<line x1="35.3" y1="467.7" x2="37.3" y2="467.7" stroke="#444444" stroke-width="0.8"/>
<line x1="35.3" y1="456.5" x2="37.3" y2="456.5" stroke="#444444" stroke-width="0.8"/>
<line x1="35.3" y1="445.4" x2="37.3" y2="445.4" stroke="#444444" stroke-width="0.8"/>
<line x1="35.3" y1="434.2" x2="38.8" y2="434.2" stroke="#444444" stroke-width="0.8"/>
<text x="32.3" y="438.0" font-size="10.08" text-anchor="end" fill="#111" textLength="13.36" lengthAdjust="spacingAndGlyphs">0.4</text>
<line x1="35.3" y1="423.1" x2="37.3" y2="423.1" stroke="#444444" stroke-width="0.8"/>
<line x1="35.3" y1="411.9" x2="37.3" y2="411.9" stroke="#444444" stroke-width="0.8"/>
<line x1="35.3" y1="400.8" x2="37.3" y2="400.8" stroke="#444444" stroke-width="0.8"/>
<line x1="35.3" y1="389.7" x2="38.8" y2="389.7" stroke="#444444" stroke-width="0.8"/>
<text x="32.3" y="393.5" font-size="10.08" text-anchor="end" fill="#111" textLength="13.36" lengthAdjust="spacingAndGlyphs">0.6</text>
<line x1="35.3" y1="378.5" x2="37.3" y2="378.5" stroke="#444444" stroke-width="0.8"/>
<line x1="35.3" y1="367.4" x2="37.3" y2="367.4" stroke="#444444" stroke-width="0.8"/>
<line x1="35.3" y1="356.2" x2="37.3" y2="356.2" stroke="#444444" stroke-width="0.8"/>
<line x1="35.3" y1="345.1" x2="38.8" y2="345.1" stroke="#444444" stroke-width="0.8"/>
<text x="32.3" y="348.9" font-size="10.08" text-anchor="end" fill="#111" textLength="13.36" lengthAdjust="spacingAndGlyphs">0.8</text>
<line x1="35.3" y1="333.9" x2="37.3" y2="333.9" stroke="#444444" stroke-width="0.8"/>
<line x1="35.3" y1="322.8" x2="37.3" y2="322.8" stroke="#444444" stroke-width="0.8"/>
<line x1="35.3" y1="311.6" x2="37.3" y2="311.6" stroke="#444444" stroke-width="0.8"/>
<line x1="35.3" y1="300.5" x2="38.8" y2="300.5" stroke="#444444" stroke-width="0.8"/>
<text x="32.3" y="304.3" font-size="10.08" text-anchor="end" fill="#111" textLength="13.36" lengthAdjust="spacingAndGlyphs">1.0</text>
<line x1="42.4" y1="534.3" x2="42.4" y2="532.3" stroke="#444444" stroke-width="0.8"/>
<line x1="50.9" y1="534.3" x2="50.9" y2="532.3" stroke="#444444" stroke-width="0.8"/>
<line x1="59.5" y1="534.3" x2="59.5" y2="532.3" stroke="#444444" stroke-width="0.8"/>
<line x1="68.1" y1="534.3" x2="68.1" y2="532.3" stroke="#444444" stroke-width="0.8"/>
<line x1="76.7" y1="534.3" x2="76.7" y2="530.8" stroke="#444444" stroke-width="0.8"/>
<text x="76.7" y="543.8" font-size="10.08" text-anchor="middle" fill="#111" textLength="13.36" lengthAdjust="spacingAndGlyphs">0.5</text>
<line x1="85.2" y1="534.3" x2="85.2" y2="532.3" stroke="#444444" stroke-width="0.8"/>
<line x1="93.8" y1="534.3" x2="93.8" y2="532.3" stroke="#444444" stroke-width="0.8"/>
<line x1="102.4" y1="534.3" x2="102.4" y2="532.3" stroke="#444444" stroke-width="0.8"/>
<line x1="110.9" y1="534.3" x2="110.9" y2="532.3" stroke="#444444" stroke-width="0.8"/>
<line x1="119.5" y1="534.3" x2="119.5" y2="530.8" stroke="#444444" stroke-width="0.8"/>
<text x="119.5" y="543.8" font-size="10.08" text-anchor="middle" fill="#111" textLength="13.36" lengthAdjust="spacingAndGlyphs">1.0</text>
<line x1="128.1" y1="534.3" x2="128.1" y2="532.3" stroke="#444444" stroke-width="0.8"/>
<line x1="136.6" y1="534.3" x2="136.6" y2="532.3" stroke="#444444" stroke-width="0.8"/>
<line x1="145.2" y1="534.3" x2="145.2" y2="532.3" stroke="#444444" stroke-width="0.8"/>
<line x1="153.8" y1="534.3" x2="153.8" y2="532.3" stroke="#444444" stroke-width="0.8"/>
<line x1="162.4" y1="534.3" x2="162.4" y2="530.8" stroke="#444444" stroke-width="0.8"/>
<text x="162.4" y="543.8" font-size="10.08" text-anchor="middle" fill="#111" textLength="13.36" lengthAdjust="spacingAndGlyphs">1.5</text>
<line x1="170.9" y1="534.3" x2="170.9" y2="532.3" stroke="#444444" stroke-width="0.8"/>
<line x1="179.5" y1="534.3" x2="179.5" y2="532.3" stroke="#444444" stroke-width="0.8"/>
<line x1="188.1" y1="534.3" x2="188.1" y2="532.3" stroke="#444444" stroke-width="0.8"/>
<line x1="196.6" y1="534.3" x2="196.6" y2="532.3" stroke="#444444" stroke-width="0.8"/>
<line x1="205.2" y1="534.3" x2="205.2" y2="530.8" stroke="#444444" stroke-width="0.8"/>
<text x="205.2" y="543.8" font-size="10.08" text-anchor="middle" fill="#111" textLength="13.36" lengthAdjust="spacingAndGlyphs">2.0</text>
<line x1="213.8" y1="534.3" x2="213.8" y2="532.3" stroke="#444444" stroke-width="0.8"/>
<line x1="222.3" y1="534.3" x2="222.3" y2="532.3" stroke="#444444" stroke-width="0.8"/>
<line x1="230.9" y1="534.3" x2="230.9" y2="532.3" stroke="#444444" stroke-width="0.8"/>
<line x1="239.5" y1="534.3" x2="239.5" y2="532.3" stroke="#444444" stroke-width="0.8"/>
<line x1="248.1" y1="534.3" x2="248.1" y2="530.8" stroke="#444444" stroke-width="0.8"/>
<text x="248.1" y="543.8" font-size="10.08" text-anchor="middle" fill="#111" textLength="13.36" lengthAdjust="spacingAndGlyphs">2.5</text>
<line x1="256.6" y1="534.3" x2="256.6" y2="532.3" stroke="#444444" stroke-width="0.8"/>
<line x1="265.2" y1="534.3" x2="265.2" y2="532.3" stroke="#444444" stroke-width="0.8"/>
<line x1="273.8" y1="534.3" x2="273.8" y2="532.3" stroke="#444444" stroke-width="0.8"/>
<line x1="282.3" y1="534.3" x2="282.3" y2="532.3" stroke="#444444" stroke-width="0.8"/>
<line x1="290.9" y1="534.3" x2="290.9" y2="530.8" stroke="#444444" stroke-width="0.8"/>
<text x="290.9" y="543.8" font-size="10.08" text-anchor="middle" fill="#111" textLength="13.36" lengthAdjust="spacingAndGlyphs">3.0</text>
<line x1="299.5" y1="534.3" x2="299.5" y2="532.3" stroke="#444444" stroke-width="0.8"/>
<line x1="308.0" y1="534.3" x2="308.0" y2="532.3" stroke="#444444" stroke-width="0.8"/>
<line x1="316.6" y1="534.3" x2="316.6" y2="532.3" stroke="#444444" stroke-width="0.8"/>
<line x1="325.2" y1="534.3" x2="325.2" y2="532.3" stroke="#444444" stroke-width="0.8"/>
<line x1="333.8" y1="534.3" x2="333.8" y2="530.8" stroke="#444444" stroke-width="0.8"/>
<text x="333.8" y="543.8" font-size="10.08" text-anchor="middle" fill="#111" textLength="13.36" lengthAdjust="spacingAndGlyphs">3.5</text>
<line x1="342.3" y1="534.3" x2="342.3" y2="532.3" stroke="#444444" stroke-width="0.8"/>
<line x1="350.9" y1="534.3" x2="350.9" y2="532.3" stroke="#444444" stroke-width="0.8"/>
<line x1="359.5" y1="534.3" x2="359.5" y2="532.3" stroke="#444444" stroke-width="0.8"/>
<text x="199.4" y="554.6" font-size="8.76" text-anchor="middle" fill="#111" textLength="35.76" lengthAdjust="spacingAndGlyphs">Age [Myr]</text>
<text transform="translate(13.9,412.6) rotate(-90)" font-size="9.20" text-anchor="middle" fill="#111" textLength="23" lengthAdjust="spacingAndGlyphs">Ω/Ω<tspan dy="2" font-size="6.44">crit</tspan></text>
<text x="356.0" y="300.5" font-size="11.2" text-anchor="middle" fill="#111" textLength="14.3" lengthAdjust="spacingAndGlyphs">(c)</text>
<line x1="41.7" y1="299.6" x2="56.7" y2="299.6" stroke="#ff3a3a" stroke-width="1.1"/>
<text x="62.5" y="302.2" font-size="8.52" text-anchor="start" fill="#111" textLength="9.02" lengthAdjust="spacingAndGlyphs">S2</text>
<line x1="41.7" y1="310.1" x2="56.7" y2="310.1" stroke="#ff3a3a" stroke-width="1.1" stroke-dasharray="2.8,1.2"/>
<text x="62.5" y="312.7" font-size="8.52" text-anchor="start" fill="#111" textLength="9.02" lengthAdjust="spacingAndGlyphs">S8</text>
<line x1="86.1" y1="299.6" x2="101.1" y2="299.6" stroke="#319a31" stroke-width="1.1"/>
<text x="106.9" y="302.2" font-size="8.52" text-anchor="start" fill="#111" textLength="9.02" lengthAdjust="spacingAndGlyphs">S9</text>
<line x1="86.1" y1="310.1" x2="101.1" y2="310.1" stroke="#ff3a3a" stroke-width="1.1" stroke-dasharray="0.9,1.1"/>
<text x="106.9" y="312.7" font-size="8.52" text-anchor="start" fill="#111" textLength="13.54" lengthAdjust="spacingAndGlyphs">S10</text>
<line x1="135.9" y1="299.6" x2="150.9" y2="299.6" stroke="#3a3aff" stroke-width="1.1"/>
<text x="156.7" y="302.2" font-size="8.52" text-anchor="start" fill="#111" textLength="13.54" lengthAdjust="spacingAndGlyphs">S11</text>
<line x1="135.9" y1="310.1" x2="150.9" y2="310.1" stroke="#262626" stroke-width="1.1"/>
<text x="156.7" y="312.7" font-size="8.52" text-anchor="start" fill="#111" textLength="13.54" lengthAdjust="spacingAndGlyphs">S12</text>
<path d="M428.00,440.20C428.00,440.20 429.32,442.10 435.10,444.00C440.88,445.90 453.90,448.67 462.70,451.60C471.50,454.53 479.52,457.62 487.90,461.60C496.28,465.58 504.62,470.88 513.00,475.50C521.38,480.12 529.82,485.33 538.20,489.30C546.58,493.27 556.18,497.08 563.30,499.30C570.42,501.52 575.62,502.18 580.90,502.60C586.18,503.02 589.72,502.75 595.00,501.80C600.28,500.85 607.58,498.43 612.60,496.90C617.62,495.37 620.92,494.48 625.10,492.60C629.28,490.72 633.50,488.23 637.70,485.60C641.90,482.97 646.53,480.15 650.30,476.80C654.07,473.45 657.38,469.48 660.30,465.50C663.22,461.52 665.28,457.93 667.80,452.90C670.32,447.87 673.30,441.17 675.40,435.30C677.50,429.43 678.93,422.72 680.40,417.70C681.87,412.68 683.12,408.87 684.20,405.20C685.28,401.53 686.90,395.70 686.90,395.70" fill="none" stroke="#ff3a3a" stroke-width="1.0" stroke-linejoin="round"/>
<polyline points="686.9,395.7 687.9,402.6 689.9,397.7 693.8,394.7 697.8,391.7 701.7,392.7 704.7,390.7 708.6,389.8 712.6,390.7 716.5,393.7 719.5,397.7 722.5,395.7 724.4,399.6 725.5,394.0 726.8,399.6 728.0,394.0 729.3,399.6 730.5,394.5 732.3,398.0 735.3,393.7" fill="none" stroke="#ff3a3a" stroke-width="1.0" stroke-linejoin="round"/>
<polyline points="736.3,354.5 736.3,490.6" fill="none" stroke="#ff3a3a" stroke-width="1" stroke-linejoin="round"/>
<polyline points="709.2,389.8 709.2,411.9" fill="none" stroke="#ff3a3a" stroke-width="0.9" stroke-linejoin="round"/>
<rect x="734.1" y="379.1" width="4.4" height="4.4" stroke="#ff3a3a" stroke-width="0.9" fill="none"/>
<circle cx="709.2" cy="391.0" r="2.2" stroke="#ff3a3a" stroke-width="0.9" fill="none"/>
<path d="M707.0,409.7L711.4,414.1M707.0,414.1L711.4,409.7" stroke="#ff3a3a" stroke-width="0.9" fill="none"/>
<path d="M428.00,440.20C428.00,440.20 429.32,442.37 435.10,443.30C440.88,444.23 451.80,444.00 462.70,445.80C473.60,447.60 489.18,451.05 500.50,454.10C511.82,457.15 520.13,460.12 530.60,464.10C541.07,468.08 552.57,473.27 563.30,478.00C574.03,482.73 586.78,488.80 595.00,492.50C603.22,496.20 607.58,498.63 612.60,500.20C617.62,501.77 620.92,501.82 625.10,501.90C629.28,501.98 633.50,501.53 637.70,500.70C641.90,499.87 646.12,498.37 650.30,496.90C654.48,495.43 658.62,494.00 662.80,491.90C666.98,489.80 671.22,487.03 675.40,484.30C679.58,481.57 684.63,478.05 687.90,475.50C691.17,472.95 693.02,471.08 695.00,469.00C696.98,466.92 699.80,463.00 699.80,463.00" fill="none" stroke="#ff3a3a" stroke-width="1" stroke-dasharray="2.8,1.2" stroke-linejoin="round"/>
<polyline points="699.8,463.0 703.7,462.8 703.7,409.5 703.7,462.8 705.7,446.0 709.2,441.0 711.6,449.0 714.6,456.9 716.5,453.0 719.5,445.1 722.5,429.3 724.4,420.4 727.4,416.4 731.4,417.4 735.3,417.4" fill="none" stroke="#ff3a3a" stroke-width="1" stroke-dasharray="2.8,1.2" stroke-linejoin="round"/>
<polyline points="736.2,300.7 736.2,354.5" fill="none" stroke="#ff3a3a" stroke-width="1" stroke-dasharray="2.8,1.2" stroke-linejoin="round"/>
<rect x="734.1" y="415.8" width="4.4" height="4.4" stroke="#ff3a3a" stroke-width="0.9" fill="none"/>
<circle cx="709.2" cy="439.5" r="1.6" stroke="#ff3a3a" stroke-width="0.9" fill="none"/>
<circle cx="709.2" cy="443.1" r="1.6" stroke="#ff3a3a" stroke-width="0.9" fill="none"/>
<path d="M428.20,435.00C428.20,435.00 428.50,458.05 428.80,465.00C429.10,471.95 428.95,474.82 430.00,476.70C431.05,478.58 435.10,476.30 435.10,476.30C435.10,476.30 462.32,473.95 475.30,472.70C488.28,471.45 500.42,470.33 513.00,468.80C525.58,467.27 540.32,465.33 550.80,463.50C561.28,461.67 567.70,460.20 575.90,457.80C584.10,455.40 593.88,452.00 600.00,449.10C606.12,446.20 608.42,443.53 612.60,440.40C616.78,437.27 620.92,434.70 625.10,430.30C629.28,425.90 633.93,419.45 637.70,414.00C641.47,408.55 644.98,401.80 647.70,397.60C650.42,393.40 654.00,388.80 654.00,388.80" fill="none" stroke="#3cc8c8" stroke-width="1.0" stroke-linejoin="round"/>
<polyline points="654.0,388.8 655.8,387.6 659.0,391.4 662.8,388.1 670.4,388.1 673.4,395.1 675.4,410.2 677.9,407.7 682.9,392.6 684.9,385.8 686.9,390.7 688.9,387.8 693.8,386.8 699.8,385.8 709.6,386.8 718.5,385.8 719.5,381.9 720.5,388.8 721.5,390.0 722.6,480.0 723.2,515.0 724.0,519.5 726.8,521.9 739.3,523.0 750.8,523.4" fill="none" stroke="#3cc8c8" stroke-width="1.0" stroke-linejoin="round"/>
<rect x="748.6" y="521.2" width="4.4" height="4.4" stroke="#3cc8c8" stroke-width="0.9" fill="none"/>
<path d="M428.20,435.00C428.20,435.00 428.48,462.23 429.00,470.00C429.52,477.77 431.30,481.60 431.30,481.60C431.30,481.60 427.77,481.60 435.10,481.00C442.43,480.40 460.22,479.17 475.30,478.00C490.38,476.83 510.93,475.35 525.60,474.00C540.27,472.65 550.90,471.65 563.30,469.90C575.70,468.15 591.78,465.28 600.00,463.50C608.22,461.72 608.42,460.75 612.60,459.20C616.78,457.65 620.92,456.08 625.10,454.20C629.28,452.32 633.50,450.00 637.70,447.90C641.90,445.80 647.17,443.07 650.30,441.60C653.43,440.13 656.50,439.10 656.50,439.10" fill="none" stroke="#3cc8c8" stroke-width="1" stroke-dasharray="2.8,1.2" stroke-linejoin="round"/>
<polyline points="656.5,439.1 660.3,445.4 665.3,445.4 675.4,437.8 684.9,429.3 686.9,437.2 689.9,451.0 694.8,446.1 699.8,442.1 705.7,445.1 709.6,449.0 713.6,446.1 714.6,436.2 715.6,449.0 719.5,448.0 720.5,444.1 720.5,460.9" fill="none" stroke="#3cc8c8" stroke-width="1" stroke-dasharray="2.8,1.2" stroke-linejoin="round"/>
<path d="M721.90,301.80C721.90,301.80 721.80,405.47 721.90,430.00C722.00,454.53 722.08,443.85 722.50,449.00C722.92,454.15 723.58,457.28 724.40,460.90C725.22,464.52 726.40,467.52 727.40,470.70C728.40,473.88 729.13,476.78 730.40,480.00C731.67,483.22 733.52,487.05 735.00,490.00C736.48,492.95 737.63,495.70 739.30,497.70C740.97,499.70 743.08,500.80 745.00,502.00C746.92,503.20 749.83,504.42 750.80,504.90" fill="none" stroke="#3cc8c8" stroke-width="1" stroke-dasharray="2.8,1.2" stroke-linejoin="round"/>
<path d="M718.3,458.7L722.7,463.1M718.3,463.1L722.7,458.7" stroke="#3cc8c8" stroke-width="0.9" fill="none"/>
<rect x="748.6" y="501.9" width="4.4" height="4.4" stroke="#3cc8c8" stroke-width="0.9" fill="none"/>
<path d="M428.00,425.20C428.00,425.20 430.48,420.78 432.50,419.60C434.52,418.42 432.97,418.43 440.10,418.10C447.23,417.77 463.15,417.35 475.30,417.60C487.45,417.85 500.42,418.68 513.00,419.60C525.58,420.52 536.30,421.73 550.80,423.10C565.30,424.47 587.62,426.38 600.00,427.80C612.38,429.22 616.72,430.43 625.10,431.60C633.48,432.77 650.30,434.80 650.30,434.80C650.30,434.80 651.55,435.05 652.80,436.60C654.05,438.15 655.72,440.97 657.80,444.10C659.88,447.23 662.37,451.00 665.30,455.40C668.23,459.80 672.05,465.47 675.40,470.50C678.75,475.53 682.05,481.22 685.40,485.60C688.75,489.98 692.23,493.87 695.50,496.80C698.77,499.73 700.37,500.47 705.00,503.20C709.63,505.93 717.80,511.13 723.30,513.20C728.80,515.27 733.03,515.02 738.00,515.60C742.97,516.18 750.58,516.52 753.10,516.70" fill="none" stroke="#cccc30" stroke-width="1.0" stroke-linejoin="round"/>
<circle cx="753.1" cy="516.7" r="2.2" stroke="#cccc30" stroke-width="0.9" fill="none"/>
<path d="M428.00,435.20C428.00,435.20 429.65,430.67 432.50,429.40C435.35,428.13 437.97,428.03 445.10,427.60C452.23,427.17 461.88,426.57 475.30,426.80C488.72,427.03 504.82,427.92 525.60,429.00C546.38,430.08 583.42,432.25 600.00,433.30C616.58,434.35 616.72,434.63 625.10,435.30C633.48,435.97 645.07,436.45 650.30,437.30C655.53,438.15 654.00,438.43 656.50,440.40C659.00,442.37 662.15,446.38 665.30,449.10C668.45,451.82 671.63,453.77 675.40,456.70C679.17,459.63 683.80,463.57 687.90,466.70C692.00,469.83 695.48,472.45 700.00,475.50C704.52,478.55 709.40,481.77 715.00,485.00C720.60,488.23 727.38,491.33 733.60,494.90C739.82,498.47 749.18,504.48 752.30,506.40" fill="none" stroke="#cccc30" stroke-width="1" stroke-dasharray="2.8,1.2" stroke-linejoin="round"/>
<path d="M751.5,504.6L755.1,508.2M751.5,508.2L755.1,504.6" stroke="#cccc30" stroke-width="0.9" fill="none"/>
<path d="M752.5,506.7L756.1,510.3M752.5,510.3L756.1,506.7" stroke="#cccc30" stroke-width="0.9" fill="none"/>
<path d="M752.2,508.9L755.4,512.1M752.2,512.1L755.4,508.9" stroke="#cccc30" stroke-width="0.9" fill="none"/>
<rect x="427.9" y="289.6" width="328.7" height="244.9" fill="none" stroke="#444444" stroke-width="1"/>
<line x1="424.9" y1="524.4" x2="427.9" y2="524.4" stroke="#444444" stroke-width="1.0"/>
<text x="422.7" y="528.0" font-size="8.88" text-anchor="end" fill="#111" textLength="11.77" lengthAdjust="spacingAndGlyphs">0.0</text>
<line x1="424.9" y1="479.6" x2="427.9" y2="479.6" stroke="#444444" stroke-width="1.0"/>
<text x="422.7" y="483.2" font-size="8.88" text-anchor="end" fill="#111" textLength="11.77" lengthAdjust="spacingAndGlyphs">0.2</text>
<line x1="424.9" y1="434.7" x2="427.9" y2="434.7" stroke="#444444" stroke-width="1.0"/>
<text x="422.7" y="438.3" font-size="8.88" text-anchor="end" fill="#111" textLength="11.77" lengthAdjust="spacingAndGlyphs">0.4</text>
<line x1="424.9" y1="389.9" x2="427.9" y2="389.9" stroke="#444444" stroke-width="1.0"/>
<text x="422.7" y="393.5" font-size="8.88" text-anchor="end" fill="#111" textLength="11.77" lengthAdjust="spacingAndGlyphs">0.6</text>
<line x1="424.9" y1="345.0" x2="427.9" y2="345.0" stroke="#444444" stroke-width="1.0"/>
<text x="422.7" y="348.6" font-size="8.88" text-anchor="end" fill="#111" textLength="11.77" lengthAdjust="spacingAndGlyphs">0.8</text>
<line x1="424.9" y1="300.2" x2="427.9" y2="300.2" stroke="#444444" stroke-width="1.0"/>
<text x="422.7" y="303.8" font-size="8.88" text-anchor="end" fill="#111" textLength="11.77" lengthAdjust="spacingAndGlyphs">1.0</text>
<line x1="428.0" y1="534.5" x2="428.0" y2="537.5" stroke="#444444" stroke-width="1.0"/>
<text x="428.0" y="545.8" font-size="8.88" text-anchor="middle" fill="#111" textLength="11.77" lengthAdjust="spacingAndGlyphs">0.0</text>
<line x1="479.7" y1="534.5" x2="479.7" y2="537.5" stroke="#444444" stroke-width="1.0"/>
<text x="479.7" y="545.8" font-size="8.88" text-anchor="middle" fill="#111" textLength="11.77" lengthAdjust="spacingAndGlyphs">0.5</text>
<line x1="531.4" y1="534.5" x2="531.4" y2="537.5" stroke="#444444" stroke-width="1.0"/>
<text x="531.4" y="545.8" font-size="8.88" text-anchor="middle" fill="#111" textLength="11.77" lengthAdjust="spacingAndGlyphs">1.0</text>
<line x1="583.1" y1="534.5" x2="583.1" y2="537.5" stroke="#444444" stroke-width="1.0"/>
<text x="583.1" y="545.8" font-size="8.88" text-anchor="middle" fill="#111" textLength="11.77" lengthAdjust="spacingAndGlyphs">1.5</text>
<line x1="634.8" y1="534.5" x2="634.8" y2="537.5" stroke="#444444" stroke-width="1.0"/>
<text x="634.8" y="545.8" font-size="8.88" text-anchor="middle" fill="#111" textLength="11.77" lengthAdjust="spacingAndGlyphs">2.0</text>
<line x1="686.5" y1="534.5" x2="686.5" y2="537.5" stroke="#444444" stroke-width="1.0"/>
<text x="686.5" y="545.8" font-size="8.88" text-anchor="middle" fill="#111" textLength="11.77" lengthAdjust="spacingAndGlyphs">2.5</text>
<line x1="738.2" y1="534.5" x2="738.2" y2="537.5" stroke="#444444" stroke-width="1.0"/>
<text x="738.2" y="545.8" font-size="8.88" text-anchor="middle" fill="#111" textLength="11.77" lengthAdjust="spacingAndGlyphs">3.0</text>
<text x="592.1" y="555.5" font-size="8.76" text-anchor="middle" fill="#111" textLength="35.76" lengthAdjust="spacingAndGlyphs">Age [Myr]</text>
<text transform="translate(406.6,412.6) rotate(-90)" font-size="9.20" text-anchor="middle" fill="#111" textLength="23" lengthAdjust="spacingAndGlyphs">Ω/Ω<tspan dy="2" font-size="6.44">crit</tspan></text>
<text x="747.4" y="300.5" font-size="11.2" text-anchor="middle" fill="#111" textLength="14.7" lengthAdjust="spacingAndGlyphs">(d)</text>
<line x1="434.4" y1="299.6" x2="449.4" y2="299.6" stroke="#ff3a3a" stroke-width="1.1"/>
<text x="455.3" y="302.2" font-size="8.52" text-anchor="start" fill="#111" textLength="32.31" lengthAdjust="spacingAndGlyphs">B2: star1</text>
<line x1="434.4" y1="310.1" x2="449.4" y2="310.1" stroke="#ff3a3a" stroke-width="1.1" stroke-dasharray="2.8,1.2"/>
<text x="455.3" y="312.7" font-size="8.52" text-anchor="start" fill="#111" textLength="32.31" lengthAdjust="spacingAndGlyphs">B2: star2</text>
<line x1="503.5" y1="299.6" x2="518.5" y2="299.6" stroke="#3cc8c8" stroke-width="1.1"/>
<text x="524.4" y="302.2" font-size="8.52" text-anchor="start" fill="#111" textLength="32.31" lengthAdjust="spacingAndGlyphs">B6: star1</text>
<line x1="503.5" y1="310.1" x2="518.5" y2="310.1" stroke="#3cc8c8" stroke-width="1.1" stroke-dasharray="2.8,1.2"/>
<text x="524.4" y="312.7" font-size="8.52" text-anchor="start" fill="#111" textLength="32.31" lengthAdjust="spacingAndGlyphs">B6: star2</text>
<line x1="571.9" y1="299.6" x2="586.9" y2="299.6" stroke="#cccc30" stroke-width="1.1"/>
<text x="592.8" y="302.2" font-size="8.52" text-anchor="start" fill="#111" textLength="32.31" lengthAdjust="spacingAndGlyphs">B7: star1</text>
<line x1="571.9" y1="310.1" x2="586.9" y2="310.1" stroke="#cccc30" stroke-width="1.1" stroke-dasharray="2.8,1.2"/>
<text x="592.8" y="312.7" font-size="8.52" text-anchor="start" fill="#111" textLength="32.31" lengthAdjust="spacingAndGlyphs">B7: star2</text>
</svg></body></html>
